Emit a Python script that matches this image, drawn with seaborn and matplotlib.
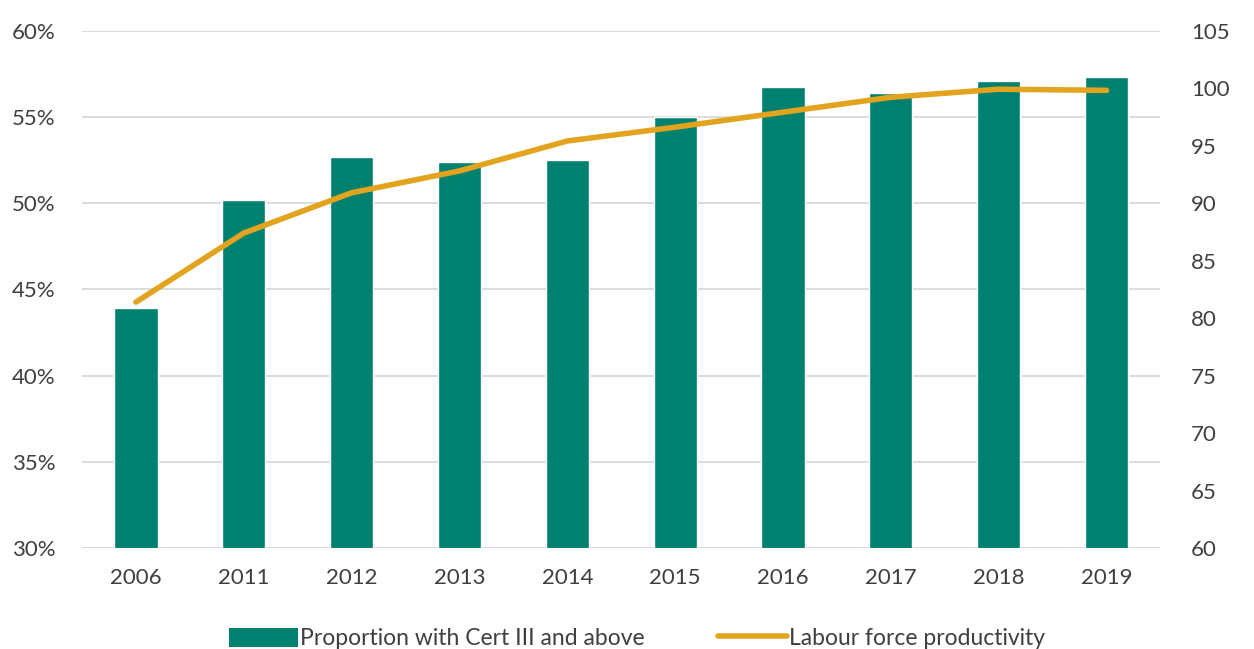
import matplotlib
matplotlib.use("Agg")
import matplotlib.pyplot as plt
import seaborn as sns
import pandas as pd
from matplotlib.ticker import FuncFormatter, MultipleLocator
from matplotlib.lines import Line2D
from matplotlib.patches import Patch

years = ["2006", "2011", "2012", "2013", "2014", "2015", "2016", "2017", "2018", "2019"]
cert3_share = [43.9, 50.2, 52.7, 52.4, 52.5, 55.0, 56.7, 56.4, 57.1, 57.3]
productivity = [81.4, 87.4, 90.9, 92.8, 95.4, 96.6, 97.9, 99.2, 99.9, 99.8]

bar_label = "Proportion with Cert III and above"
line_label = "Labour force productivity"

TEAL = "#00806F"
GOLD = "#E2A41F"
GRID = "#D9D9D9"
TEXT = "#3F3F3F"

sns.set_theme(style="white")
plt.rcParams["font.family"] = ["Lato", "DejaVu Sans"]

df = pd.DataFrame({"year": years, "share": cert3_share, "prod": productivity})

fig = plt.figure(figsize=(12.54, 6.49), dpi=100)
ax = fig.add_axes([0.0654, 0.155, 0.860, 0.798])

sns.barplot(data=df, x="year", y="share", color=TEAL, width=0.4,
            saturation=1, ax=ax, zorder=2)
ax.set_ylim(30, 60)
ax.set_xlim(-0.5, len(years) - 0.5)
ax.yaxis.set_major_locator(MultipleLocator(5))
ax.yaxis.set_major_formatter(FuncFormatter(lambda v, _: f"{v:.0f}%"))
ax.grid(axis="y", color=GRID, linewidth=1.3, zorder=0)
ax.set_axisbelow(True)
for s in ax.spines.values():
    s.set_visible(False)
ax.set_xlabel("")
ax.set_ylabel("")
ax.tick_params(axis="both", length=0, labelsize=16, labelcolor=TEXT)
ax.tick_params(axis="x", pad=14)
ax.tick_params(axis="y", pad=19)

ax2 = ax.twinx()
sns.lineplot(x=range(len(years)), y=productivity, color=GOLD, linewidth=4,
             ax=ax2, solid_capstyle="round", solid_joinstyle="round", zorder=3)
ax2.set_ylim(60, 105)
ax2.yaxis.set_major_locator(MultipleLocator(5))
ax2.grid(False)
for s in ax2.spines.values():
    s.set_visible(False)
ax2.tick_params(axis="y", length=0, labelsize=16, labelcolor=TEXT, pad=22)

handles = [Patch(facecolor=TEAL, edgecolor="none"),
           Line2D([0], [0], color=GOLD, linewidth=4)]
fig.legend(handles, [bar_label, line_label], loc="lower center",
           bbox_to_anchor=(0.508, -0.032), ncol=2, frameon=False, fontsize=16.5,
           handlelength=3.0, handleheight=0.9, columnspacing=3.2,
           handletextpad=0.1, labelcolor=TEXT)

fig.savefig("out.png", dpi=100, facecolor="white")
